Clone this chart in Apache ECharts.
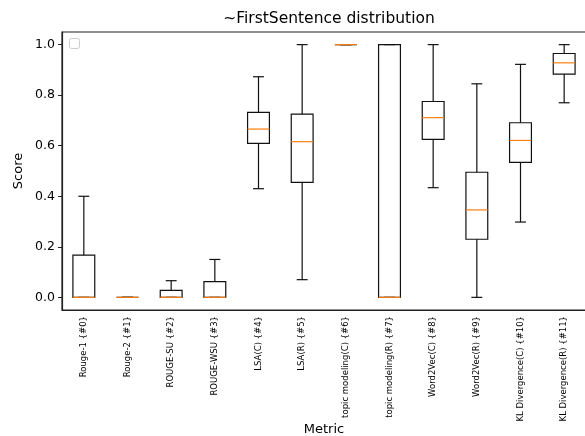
<!DOCTYPE html>
<html><head><meta charset="utf-8">
<script src="https://cdn.jsdelivr.net/npm/echarts@6/dist/echarts.min.js"></script>
<style>html,body{margin:0;padding:0;background:#fff}#c{width:585px;height:436px}</style>
</head><body><div id="c"></div>
<script>
var categories = ['Rouge-1 {#0}','Rouge-2 {#1}','ROUGE-SU {#2}','ROUGE-WSU {#3}','LSA(C) {#4}','LSA(R) {#5}','topic modeling(C) {#6}','topic modeling(R) {#7}','Word2Vec(C) {#8}','Word2Vec(R) {#9}','KL Divergence(C) {#10}','KL Divergence(R) {#11}'];
var mins    = [0, 0, 0,     0,     0.43,  0.07,  1, 0, 0.434, 0,     0.298, 0.77];
var q1s     = [0, 0, 0,     0,     0.609, 0.455, 1, 0, 0.625, 0.23,  0.534, 0.883];
var medians = [0, 0, 0,     0,     0.666, 0.616, 1, 0, 0.711, 0.346, 0.621, 0.928];
var q3s     = [0.167, 0, 0.028, 0.062, 0.732, 0.725, 1, 1, 0.775, 0.495, 0.691, 0.965];
var maxs    = [0.4, 0, 0.066, 0.15,  0.873, 1.0,   1, 1, 1.0,   0.845, 0.922, 1.0];
var yTicks  = [0, 0.2, 0.4, 0.6, 0.8, 1.0];

var data = categories.map(function(c, i){ return [i, mins[i], q1s[i], medians[i], q3s[i], maxs[i]]; });
var FONT = 'DejaVu Sans';
var chart = echarts.init(document.getElementById('c'), null, {renderer:'canvas'});
chart.setOption({
  animation:false,
  backgroundColor:'#fff',
  title:{text:'~FirstSentence distribution', left:324, top:6, textAlign:'center',
    textStyle:{fontFamily:FONT, fontSize:15.5, fontWeight:'normal', color:'#000'}},
  grid:{left:62, top:32, right:-1, bottom:126, show:true, borderColor:'#222', borderWidth:1.2,
    containLabel:false, outerBoundsMode:'none'},
  xAxis:{type:'category', data:categories, name:'Metric', nameLocation:'middle', nameGap:120,
    nameMoveOverlap:false,
    nameTextStyle:{fontFamily:FONT, fontSize:13, color:'#000', verticalAlign:'middle'},
    axisLine:{onZero:false, lineStyle:{color:'#222', width:1.2}},
    axisTick:{alignWithLabel:true, length:4, lineStyle:{color:'#222'}},
    axisLabel:{rotate:90, fontFamily:FONT, fontSize:8.5, color:'#000', margin:6, interval:0},
    splitLine:{show:false}},
  yAxis:{type:'value', min:-0.05, max:1.05, name:'Score', nameLocation:'middle', nameGap:37,
    nameMoveOverlap:false,
    nameTextStyle:{fontFamily:FONT, fontSize:13, color:'#000'},
    axisLine:{show:true, lineStyle:{color:'#222', width:1.2}},
    axisTick:{show:true, length:4, lineStyle:{color:'#222'}, customValues:yTicks},
    axisLabel:{fontFamily:FONT, fontSize:12.5, color:'#000', margin:7, customValues:yTicks,
      formatter:function(v){return v.toFixed(1);}},
    splitLine:{show:false}},
  graphic:[{type:'rect', left:69, top:38, shape:{width:10, height:10, r:2},
    style:{fill:'#fff', stroke:'#ccc', lineWidth:1}}],
  series:[{type:'custom', data:data, encode:{x:0, y:[1,2,3,4,5]},
    renderItem:function(params, api){
      var i = api.value(0);
      var band = api.size([1,0])[0];
      var cx = api.coord([i,0])[0];
      var hb = band*0.25, hc = band*0.125;
      var yMin = api.coord([i, api.value(1)])[1];
      var yQ1 = api.coord([i, api.value(2)])[1];
      var yMed = api.coord([i, api.value(3)])[1];
      var yQ3 = api.coord([i, api.value(4)])[1];
      var yMax = api.coord([i, api.value(5)])[1];
      var ls = {stroke:'#111', lineWidth:1.2, fill:null};
      return {type:'group', children:[
        {type:'line', shape:{x1:cx, y1:yQ1, x2:cx, y2:yMin}, style:ls},
        {type:'line', shape:{x1:cx, y1:yQ3, x2:cx, y2:yMax}, style:ls},
        {type:'line', shape:{x1:cx-hc, y1:yMin, x2:cx+hc, y2:yMin}, style:ls},
        {type:'line', shape:{x1:cx-hc, y1:yMax, x2:cx+hc, y2:yMax}, style:ls},
        {type:'rect', shape:{x:cx-hb, y:yQ3, width:2*hb, height:yQ1-yQ3}, style:{stroke:'#111', lineWidth:1.2, fill:'none'}},
        {type:'line', shape:{x1:cx-hb, y1:yMed, x2:cx+hb, y2:yMed}, style:{stroke:'#ff7f0e', lineWidth:1.2}}
      ]};
    }}]
});
</script></body></html>
